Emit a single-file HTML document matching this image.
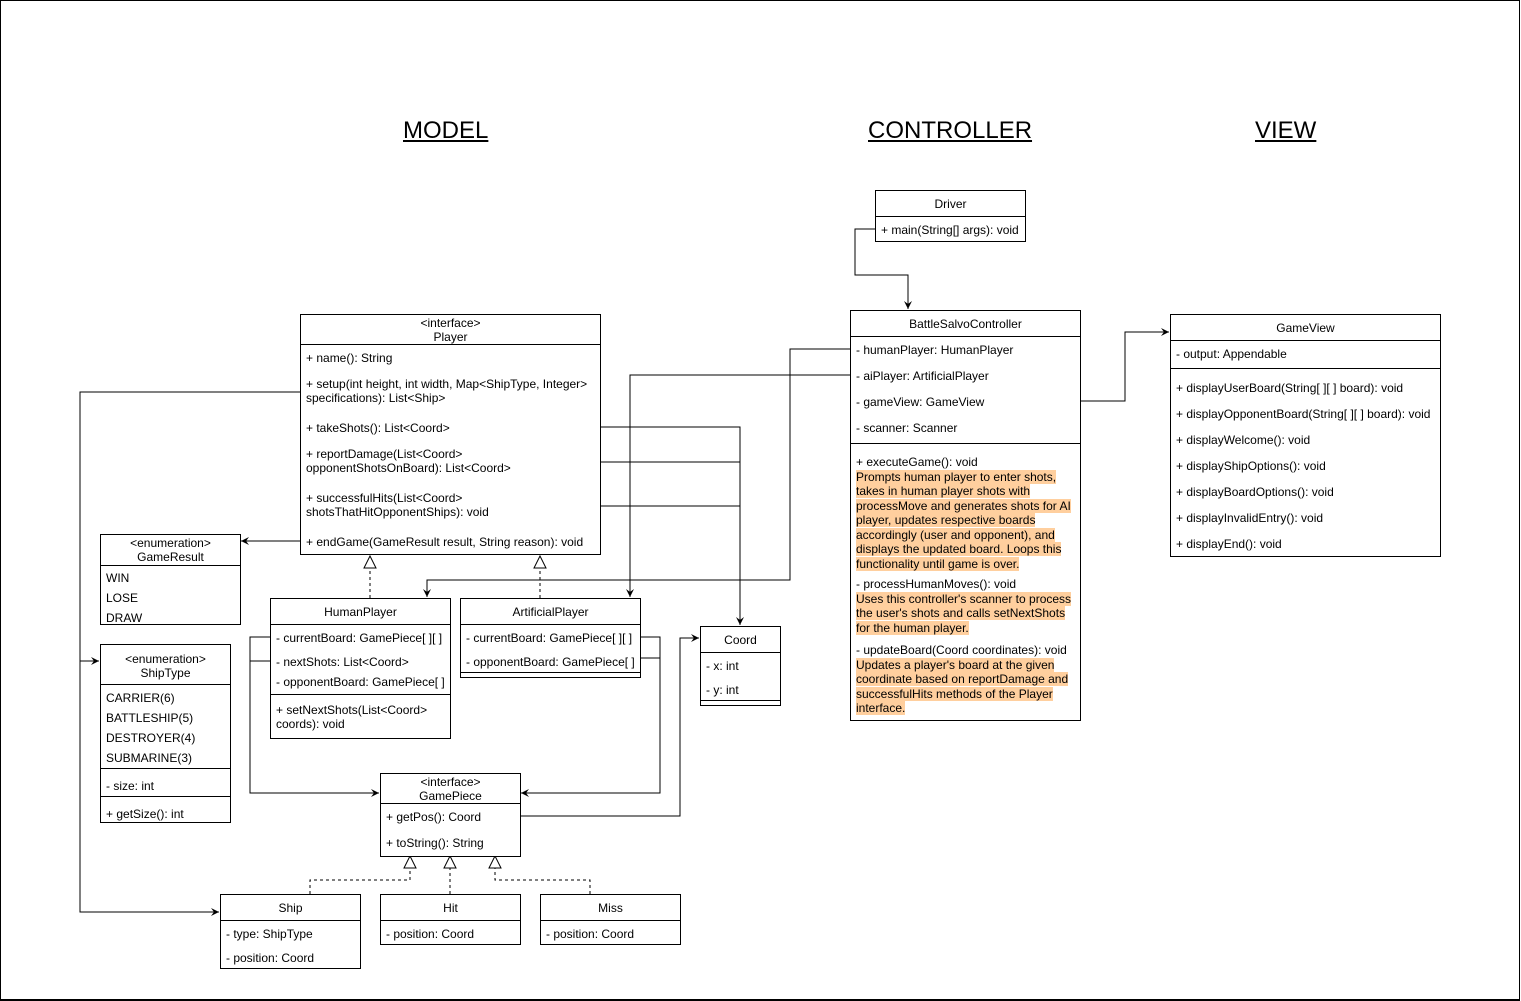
<!DOCTYPE html>
<html><head><meta charset="utf-8"><style>
body{margin:0;background:#fff}
#c{position:relative;width:1521px;height:1001px;overflow:hidden;font-family:"Liberation Sans",Arial,sans-serif;font-size:12px;color:#000}
#frame{position:absolute;left:0;top:0;width:1518px;height:998px;border:1px solid #000;border-bottom-width:2px}
.b{position:absolute;border:1px solid #000;background:#fff;box-sizing:border-box}
.h{position:absolute;height:1px;background:#000}
.t{position:absolute;line-height:14px;white-space:nowrap;transform:translateY(1px)}
.c{text-align:center}
.title{position:absolute;font-size:24px;text-decoration:underline;line-height:28px;text-decoration-thickness:2px;text-underline-offset:2px}
.hl{background:#ffcf9e}
svg{position:absolute;left:0;top:0}
</style></head><body><div id="c">
<div id="frame"></div>
<div class="title" style="left:403px;top:117px">MODEL</div>
<div class="title" style="left:868px;top:117px">CONTROLLER</div>
<div class="title" style="left:1255px;top:117px">VIEW</div>

<svg width="1521" height="1001">
<defs>
<marker id="a" markerWidth="10" markerHeight="10" refX="8" refY="5" orient="auto" markerUnits="userSpaceOnUse"><path d="M0,1 L8,5 L0,9 L3,5 Z" fill="#000"/></marker>
</defs>
<g fill="none" stroke="#000" stroke-width="1">
<polyline points="875,229 855,229 855,275 908,275 908,309" marker-end="url(#a)"/>
<polyline points="850,349 790,349 790,580 427,580 427,597" marker-end="url(#a)"/>
<polyline points="850,375 630,375 630,597" marker-end="url(#a)"/>
<polyline points="1080,401 1125,401 1125,332 1169,332" marker-end="url(#a)"/>
<polyline points="600,427 740,427 740,625" marker-end="url(#a)"/>
<polyline points="600,462 740,462"/>
<polyline points="600,506 740,506"/>
<polyline points="300,392 80,392 80,912 219,912" marker-end="url(#a)"/>
<polyline points="80,661 99,661" marker-end="url(#a)"/>
<polyline points="300,541 241,541" marker-end="url(#a)"/>
<polyline points="270,637 250,637 250,793 379,793" marker-end="url(#a)"/>
<polyline points="270,661 250,661"/>
<polyline points="640,637 660,637 660,793 521,793" marker-end="url(#a)"/>
<polyline points="640,658 660,658"/>
<polyline points="520,816 680,816 680,638 699,638" marker-end="url(#a)"/>
<g stroke-dasharray="3,3">
<polyline points="370,598 370,568"/>
<polyline points="540,598 540,568"/>
<polyline points="310,894 310,880 410,880 410,868"/>
<polyline points="450,894 450,868"/>
<polyline points="590,894 590,880 495,880 495,868"/>
</g>
<g fill="#fff">
<polygon points="370,556 364,568 376,568"/>
<polygon points="540,556 534,568 546,568"/>
<polygon points="410,856 404,868 416,868"/>
<polygon points="450,856 444,868 456,868"/>
<polygon points="495,856 489,868 501,868"/>
</g>
</g>
</svg>

<!-- Driver -->
<div class="b" style="left:875px;top:190px;width:151px;height:52px"></div>
<div class="h" style="left:875px;top:216px;width:151px"></div>
<div class="t c" style="left:875px;width:151px;top:196px">Driver</div>
<div class="t" style="left:881px;top:222px">+ main(String[] args): void</div>

<!-- BattleSalvoController -->
<div class="b" style="left:850px;top:310px;width:231px;height:411px"></div>
<div class="h" style="left:850px;top:336px;width:231px"></div>
<div class="h" style="left:850px;top:443px;width:231px"></div>
<div class="t c" style="left:850px;width:231px;top:316px">BattleSalvoController</div>
<div class="t" style="left:856px;top:342px">- humanPlayer: HumanPlayer</div>
<div class="t" style="left:856px;top:368px">- aiPlayer: ArtificialPlayer</div>
<div class="t" style="left:856px;top:394px">- gameView: GameView</div>
<div class="t" style="left:856px;top:420px">- scanner: Scanner</div>
<div class="t" style="left:856px;top:454px;line-height:14.5px">+ executeGame(): void<br><span class="hl">Prompts human player to enter shots,</span><br><span class="hl">takes in human player shots with</span><br><span class="hl">processMove and generates shots for AI</span><br><span class="hl">player, updates respective boards</span><br><span class="hl">accordingly (user and opponent), and</span><br><span class="hl">displays the updated board. Loops this</span><br><span class="hl">functionality until game is over.</span></div>
<div class="t" style="left:856px;top:576px;line-height:14.5px">- processHumanMoves(): void<br><span class="hl">Uses this controller's scanner to process</span><br><span class="hl">the user's shots and calls setNextShots</span><br><span class="hl">for the human player.</span></div>
<div class="t" style="left:856px;top:642px;line-height:14.5px">- updateBoard(Coord coordinates): void<br><span class="hl">Updates a player's board at the given</span><br><span class="hl">coordinate based on reportDamage and</span><br><span class="hl">successfulHits methods of the Player</span><br><span class="hl">interface.</span></div>

<!-- GameView -->
<div class="b" style="left:1170px;top:314px;width:271px;height:243px"></div>
<div class="h" style="left:1170px;top:340px;width:271px"></div>
<div class="h" style="left:1170px;top:368px;width:271px"></div>
<div class="t c" style="left:1170px;width:271px;top:320px">GameView</div>
<div class="t" style="left:1176px;top:346px">- output: Appendable</div>
<div class="t" style="left:1176px;top:380px">+ displayUserBoard(String[ ][ ] board): void</div>
<div class="t" style="left:1176px;top:406px">+ displayOpponentBoard(String[ ][ ] board): void</div>
<div class="t" style="left:1176px;top:432px">+ displayWelcome(): void</div>
<div class="t" style="left:1176px;top:458px">+ displayShipOptions(): void</div>
<div class="t" style="left:1176px;top:484px">+ displayBoardOptions(): void</div>
<div class="t" style="left:1176px;top:510px">+ displayInvalidEntry(): void</div>
<div class="t" style="left:1176px;top:536px">+ displayEnd(): void</div>

<!-- Player -->
<div class="b" style="left:300px;top:314px;width:301px;height:241px"></div>
<div class="h" style="left:300px;top:344px;width:301px"></div>
<div class="t c" style="left:300px;width:301px;top:315px">&lt;interface&gt;<br>Player</div>
<div class="t" style="left:306px;top:350px">+ name(): String</div>
<div class="t" style="left:306px;top:376px">+ setup(int height, int width, Map&lt;ShipType, Integer&gt;<br>specifications): List&lt;Ship&gt;</div>
<div class="t" style="left:306px;top:420px">+ takeShots(): List&lt;Coord&gt;</div>
<div class="t" style="left:306px;top:446px">+ reportDamage(List&lt;Coord&gt;<br>opponentShotsOnBoard): List&lt;Coord&gt;</div>
<div class="t" style="left:306px;top:490px">+ successfulHits(List&lt;Coord&gt;<br>shotsThatHitOpponentShips): void</div>
<div class="t" style="left:306px;top:534px">+ endGame(GameResult result, String reason): void</div>

<!-- GameResult -->
<div class="b" style="left:100px;top:534px;width:141px;height:91px"></div>
<div class="h" style="left:100px;top:565px;width:141px"></div>
<div class="t c" style="left:100px;width:141px;top:535px">&lt;enumeration&gt;<br>GameResult</div>
<div class="t" style="left:106px;top:570px">WIN</div>
<div class="t" style="left:106px;top:590px">LOSE</div>
<div class="t" style="left:106px;top:610px">DRAW</div>

<!-- ShipType -->
<div class="b" style="left:100px;top:644px;width:131px;height:179px"></div>
<div class="h" style="left:100px;top:684px;width:131px"></div>
<div class="h" style="left:100px;top:768px;width:131px"></div>
<div class="h" style="left:100px;top:796px;width:131px"></div>
<div class="t c" style="left:100px;width:131px;top:651px">&lt;enumeration&gt;<br>ShipType</div>
<div class="t" style="left:106px;top:690px">CARRIER(6)</div>
<div class="t" style="left:106px;top:710px">BATTLESHIP(5)</div>
<div class="t" style="left:106px;top:730px">DESTROYER(4)</div>
<div class="t" style="left:106px;top:750px">SUBMARINE(3)</div>
<div class="t" style="left:106px;top:778px">- size: int</div>
<div class="t" style="left:106px;top:806px">+ getSize(): int</div>

<!-- HumanPlayer -->
<div class="b" style="left:270px;top:598px;width:181px;height:141px"></div>
<div class="h" style="left:270px;top:624px;width:181px"></div>
<div class="h" style="left:270px;top:694px;width:181px"></div>
<div class="t c" style="left:270px;width:181px;top:604px">HumanPlayer</div>
<div class="t" style="left:276px;top:630px">- currentBoard: GamePiece[ ][ ]</div>
<div class="t" style="left:276px;top:654px">- nextShots: List&lt;Coord&gt;</div>
<div class="t" style="left:276px;top:674px">- opponentBoard: GamePiece[ ]</div>
<div class="t" style="left:276px;top:702px">+ setNextShots(List&lt;Coord&gt;<br>coords): void</div>

<!-- ArtificialPlayer -->
<div class="b" style="left:460px;top:598px;width:181px;height:80px"></div>
<div class="h" style="left:460px;top:624px;width:181px"></div>
<div class="h" style="left:460px;top:672px;width:181px"></div>
<div class="t c" style="left:460px;width:181px;top:604px">ArtificialPlayer</div>
<div class="t" style="left:466px;top:630px">- currentBoard: GamePiece[ ][ ]</div>
<div class="t" style="left:466px;top:654px">- opponentBoard: GamePiece[ ]</div>

<!-- Coord -->
<div class="b" style="left:700px;top:626px;width:81px;height:80px"></div>
<div class="h" style="left:700px;top:652px;width:81px"></div>
<div class="h" style="left:700px;top:700px;width:81px"></div>
<div class="t c" style="left:700px;width:81px;top:632px">Coord</div>
<div class="t" style="left:706px;top:658px">- x: int</div>
<div class="t" style="left:706px;top:682px">- y: int</div>

<!-- GamePiece -->
<div class="b" style="left:380px;top:773px;width:141px;height:84px"></div>
<div class="h" style="left:380px;top:803px;width:141px"></div>
<div class="t c" style="left:380px;width:141px;top:774px">&lt;interface&gt;<br>GamePiece</div>
<div class="t" style="left:386px;top:809px">+ getPos(): Coord</div>
<div class="t" style="left:386px;top:835px">+ toString(): String</div>

<!-- Ship -->
<div class="b" style="left:220px;top:894px;width:141px;height:75px"></div>
<div class="h" style="left:220px;top:920px;width:141px"></div>
<div class="t c" style="left:220px;width:141px;top:900px">Ship</div>
<div class="t" style="left:226px;top:926px">- type: ShipType</div>
<div class="t" style="left:226px;top:950px">- position: Coord</div>

<!-- Hit -->
<div class="b" style="left:380px;top:894px;width:141px;height:51px"></div>
<div class="h" style="left:380px;top:920px;width:141px"></div>
<div class="t c" style="left:380px;width:141px;top:900px">Hit</div>
<div class="t" style="left:386px;top:926px">- position: Coord</div>

<!-- Miss -->
<div class="b" style="left:540px;top:894px;width:141px;height:51px"></div>
<div class="h" style="left:540px;top:920px;width:141px"></div>
<div class="t c" style="left:540px;width:141px;top:900px">Miss</div>
<div class="t" style="left:546px;top:926px">- position: Coord</div>
</div></body></html>
